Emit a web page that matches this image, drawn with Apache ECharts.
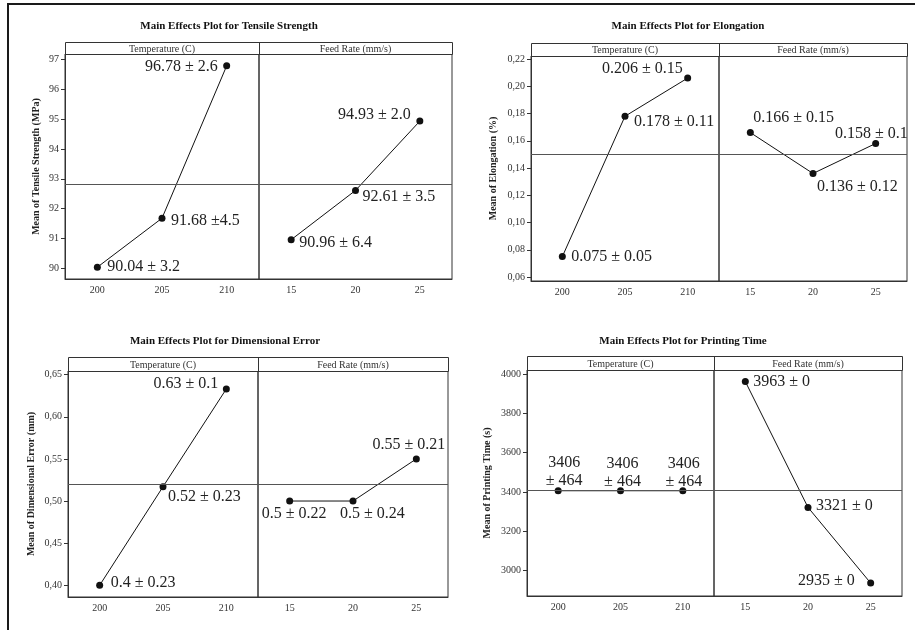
<!DOCTYPE html>
<html><head><meta charset="utf-8">
<script src="https://cdn.jsdelivr.net/npm/echarts@6/dist/echarts.min.js"></script>
<style>html,body{margin:0;padding:0;background:#fff}#c{width:915px;height:630px}</style>
</head><body><div id="c"></div>
<script>
// ---------- data ----------
const tempCats = ['200', '205', '210'];
const feedCats = ['15', '20', '25'];
const stripTemp = 'Temperature (C)';
const stripFeed = 'Feed Rate (mm/s)';

const tensileTemp = [90.04, 91.68, 96.78];
const tensileFeed = [90.96, 92.61, 94.93];
const tensileTempLabels = ['90.04 ± 3.2', '91.68 ±4.5', '96.78 ± 2.6'];
const tensileFeedLabels = ['90.96 ± 6.4', '92.61 ± 3.5', '94.93 ± 2.0'];
const tensileTicks = [90, 91, 92, 93, 94, 95, 96, 97];

const elongTemp = [0.075, 0.178, 0.206];
const elongFeed = [0.166, 0.136, 0.158];
const elongTempLabels = ['0.075 ± 0.05', '0.178 ± 0.11', '0.206 ± 0.15'];
const elongFeedLabels = ['0.166 ± 0.15', '0.136 ± 0.12', '0.158 ± 0.1'];
const elongTicks = [0.06, 0.08, 0.10, 0.12, 0.14, 0.16, 0.18, 0.20, 0.22];

const dimTemp = [0.400, 0.517, 0.633];
const dimFeed = [0.500, 0.500, 0.550];
const dimTempLabels = ['0.4 ± 0.23', '0.52 ± 0.23', '0.63 ± 0.1'];
const dimFeedLabels = ['0.5 ± 0.22', '0.5 ± 0.24', '0.55 ± 0.21'];
const dimTicks = [0.40, 0.45, 0.50, 0.55, 0.60, 0.65];

const timeTemp = [3406, 3406, 3406];
const timeFeed = [3963, 3321, 2935];
const timeTempLabels = ['3406\n± 464', '3406\n± 464', '3406\n± 464'];
const timeFeedLabels = ['3963 ± 0', '3321 ± 0', '2935 ± 0'];
const timeTicks = [3000, 3200, 3400, 3600, 3800, 4000];

// ---------- layout / style ----------
const SERIF = '"Liberation Serif","Times New Roman",Times,serif';
const comma2 = v => v.toFixed(2).replace('.', ',');

const panels = [
  { title: 'Main Effects Plot for Tensile Strength', yName: 'Mean of Tensile Strength (MPa)',
    temp: tensileTemp, feed: tensileFeed, tempLabels: tensileTempLabels, feedLabels: tensileFeedLabels,
    ticks: tensileTicks, fmt: v => String(v),
    box: { left: 65, mid: 259, right: 452, stripTop: 42, top: 54, bottom: 279 },
    yMin: 89.645, yMax: 97.177, titleX: 229, titleY: 21, nameGap: 24,
    tempPlace: [['left', 10, 0], ['left', 9, 3], ['right', -9, 1]],
    feedPlace: [['left', 8, 3], ['left', 7, 6], ['right', -9, -6]] },
  { title: 'Main Effects Plot for Elongation', yName: 'Mean of Elongation (%)',
    temp: elongTemp, feed: elongFeed, tempLabels: elongTempLabels, feedLabels: elongFeedLabels,
    ticks: elongTicks, fmt: comma2,
    box: { left: 531, mid: 719, right: 907, stripTop: 43, top: 56, bottom: 281 },
    yMin: 0.0571, yMax: 0.2222, titleX: 688, titleY: 21, nameGap: 33,
    tempPlace: [['left', 9, 0], ['left', 9, 6], ['right', -5, -9]],
    feedPlace: [['left', 3, -15], ['left', 4, 13], ['right', 32, -10]] },
  { title: 'Main Effects Plot for Dimensional Error', yName: 'Mean of Dimensional Error (mm)',
    temp: dimTemp, feed: dimFeed, tempLabels: dimTempLabels, feedLabels: dimFeedLabels,
    ticks: dimTicks, fmt: comma2,
    box: { left: 68, mid: 258, right: 448, stripTop: 357, top: 371, bottom: 597 },
    yMin: 0.3861, yMax: 0.6543, titleX: 225, titleY: 336, nameGap: 32,
    tempPlace: [['left', 11, -2], ['left', 5, 10], ['right', -8, -5]],
    feedPlace: [['left', -28, 13], ['left', -13, 13], ['right', 29, -14]] },
  { title: 'Main Effects Plot for Printing Time', yName: 'Mean of Printing Time (s)',
    temp: timeTemp, feed: timeFeed, tempLabels: timeTempLabels, feedLabels: timeFeedLabels,
    ticks: timeTicks, fmt: v => String(v),
    box: { left: 527, mid: 714, right: 902, stripTop: 356, top: 370, bottom: 596 },
    yMin: 2869, yMax: 4022, titleX: 683, titleY: 336, nameGap: 35,
    tempPlace: [['center', 6, -19], ['center', 2, -18], ['center', 1, -18]],
    feedPlace: [['left', 8, 0], ['left', 8, -2], ['right', -16, -2]] }
];

const grids = [], xAxes = [], yAxes = [], series = [], titles = [], graphics = [];

graphics.push({ type: 'line', shape: { x1: 7, y1: 4, x2: 915, y2: 4 }, style: { stroke: '#1a1a1a', lineWidth: 2 } });
graphics.push({ type: 'line', shape: { x1: 8, y1: 3, x2: 8, y2: 630 }, style: { stroke: '#1a1a1a', lineWidth: 2 } });

panels.forEach((p, pi) => {
  const b = p.box;
  const all = p.temp.concat(p.feed);
  const grand = all.reduce((s, v) => s + v, 0) / all.length;

  titles.push({ text: p.title, left: p.titleX, top: p.titleY, textAlign: 'center', padding: 0,
    textStyle: { fontFamily: SERIF, fontSize: 11, fontWeight: 'bold', color: '#111' } });

  // strip
  graphics.push({ type: 'rect', shape: { x: b.left + 0.5, y: b.stripTop + 0.5, width: b.right - b.left, height: b.top - b.stripTop },
    style: { fill: '#fff', stroke: '#333', lineWidth: 1 } });
  graphics.push({ type: 'line', shape: { x1: b.mid + 0.5, y1: b.stripTop, x2: b.mid + 0.5, y2: b.top }, style: { stroke: '#333', lineWidth: 1 } });
  [[stripTemp, (b.left + b.mid) / 2], [stripFeed, (b.mid + b.right) / 2]].forEach(([t, cx]) => {
    graphics.push({ type: 'text', x: cx, y: (b.stripTop + b.top) / 2 + 1,
      style: { text: t, fill: '#333', font: '10px ' + SERIF, align: 'center', verticalAlign: 'middle' } });
  });

  const halves = [
    { cats: tempCats, vals: p.temp, labels: p.tempLabels, place: p.tempPlace, l: b.left, w: b.mid - b.left, first: true },
    { cats: feedCats, vals: p.feed, labels: p.feedLabels, place: p.feedPlace, l: b.mid, w: b.right - b.mid, first: false }
  ];
  halves.forEach(h => {
    const gi = grids.length;
    grids.push({ left: h.l, top: b.top, width: h.w, height: b.bottom - b.top, show: true,
      borderColor: '#333', borderWidth: 1, backgroundColor: 'transparent', containLabel: false, outerBoundsMode: 'none' });
    xAxes.push({ type: 'category', gridIndex: gi, data: h.cats, boundaryGap: true,
      axisLine: { show: true, lineStyle: { color: '#333', width: 1 } }, axisTick: { show: false },
      axisLabel: { fontFamily: SERIF, fontSize: 10, color: '#333', margin: 6 }, splitLine: { show: false } });
    yAxes.push({ type: 'value', gridIndex: gi, min: p.yMin, max: p.yMax, scale: true,
      name: h.first ? p.yName : '', nameLocation: 'middle', nameRotate: 90, nameGap: p.nameGap,
      nameTextStyle: { fontFamily: SERIF, fontSize: 10, fontWeight: 'bold', color: '#222' },
      axisLine: { show: h.first, lineStyle: { color: '#333', width: 1 } },
      axisTick: { show: h.first, length: 4, lineStyle: { color: '#333' }, customValues: p.ticks },
      axisLabel: { show: h.first, customValues: p.ticks, formatter: v => p.fmt(v),
        fontFamily: SERIF, fontSize: 10, color: '#333', margin: 6 },
      splitLine: { show: false } });
    series.push({ type: 'line', xAxisIndex: gi, yAxisIndex: gi, symbol: 'circle', symbolSize: 7,
      itemStyle: { color: '#111' }, lineStyle: { color: '#111', width: 1 }, z: 3,
      data: h.vals.map((v, i) => ({ value: v, label: { show: true, formatter: h.labels[i], position: 'inside',
        align: h.place[i][0], verticalAlign: 'middle', offset: [h.place[i][1], h.place[i][2]],
        fontFamily: SERIF, fontSize: 16, color: '#222', lineHeight: 18 } })),
      markLine: { silent: true, symbol: 'none', label: { show: false },
        lineStyle: { color: '#555', width: 1, type: 'solid' }, data: [{ yAxis: grand }] } });
  });
});

const chart = echarts.init(document.getElementById('c'), null, { renderer: 'canvas' });
chart.setOption({ animation: false, backgroundColor: '#fff', title: titles, grid: grids,
  xAxis: xAxes, yAxis: yAxes, series: series, graphic: graphics });
</script></body></html>
